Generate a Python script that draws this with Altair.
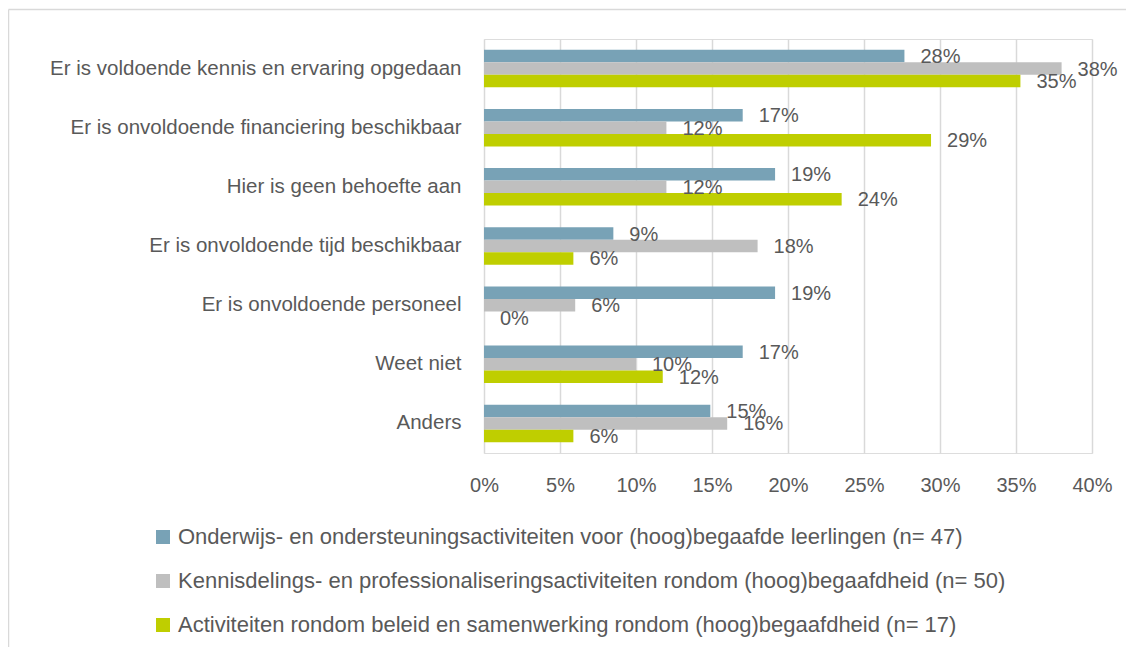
import altair as alt
import pandas as pd

categories = [
    "Er is voldoende kennis en ervaring opgedaan",
    "Er is onvoldoende financiering beschikbaar",
    "Hier is geen behoefte aan",
    "Er is onvoldoende tijd beschikbaar",
    "Er is onvoldoende personeel",
    "Weet niet",
    "Anders",
]
series = [
    "Onderwijs- en ondersteuningsactiviteiten voor (hoog)begaafde leerlingen (n= 47)",
    "Kennisdelings- en professionaliseringsactiviteiten rondom (hoog)begaafdheid (n= 50)",
    "Activiteiten rondom beleid en samenwerking rondom (hoog)begaafdheid (n= 17)",
]
onderwijs = [27.66, 17.02, 19.15, 8.51, 19.15, 17.02, 14.89]
kennisdeling = [38.0, 12.0, 12.0, 18.0, 6.0, 10.0, 16.0]
beleid = [35.29, 29.41, 23.53, 5.88, 0.0, 11.76, 5.88]
x_ticks = [0, 5, 10, 15, 20, 25, 30, 35, 40]
colors = ["#78A2B6", "#BFBFBF", "#BFCE00"]

rows = []
for s, vals in zip(series, [onderwijs, kennisdeling, beleid]):
    for c, v in zip(categories, vals):
        rows.append({"cat": c, "series": s, "v": v})
df = pd.DataFrame(rows)

TXT = "#595959"
FONT = "Liberation Sans"

y_enc = alt.Y("cat:N", sort=categories, title=None,
              scale=alt.Scale(paddingInner=0.366, paddingOuter=0.183),
              axis=alt.Axis(labelFontSize=20.5, labelColor=TXT, labelFont=FONT,
                            labelPadding=23, ticks=False, domain=False,
                            grid=False, labelLimit=600))
yoff = alt.YOffset("series:N", sort=series, scale=alt.Scale(paddingInner=0, paddingOuter=0))
x_enc = alt.X("v:Q", title=None,
              scale=alt.Scale(domain=[0, 40], nice=False, zero=True),
              axis=alt.Axis(values=x_ticks, labelExpr="datum.value + '%'",
                            labelFontSize=20, labelColor=TXT, labelFont=FONT,
                            labelPadding=22, ticks=False, domain=False,
                            labelFlush=False, labelOverlap=False,
                            grid=True, gridColor="#D9D9D9", gridWidth=1.5))

base = alt.Chart(df)

bars = base.mark_bar(size=12.5).encode(
    y=y_enc,
    yOffset=yoff,
    x=x_enc,
    color=alt.Color("series:N", sort=series, title=None,
                    scale=alt.Scale(domain=series, range=colors),
                    legend=alt.Legend(orient="none", legendX=-332, legendY=487,
                                      direction="vertical", symbolType="square",
                                      symbolSize=196, symbolStrokeWidth=0,
                                      labelFontSize=22, labelColor=TXT,
                                      labelFont=FONT, labelLimit=1000,
                                      labelOffset=4, rowPadding=22, padding=0)),
)

labels = base.transform_calculate(
    lbl="format(datum.v, '.0f') + '%'"
).mark_text(align="left", baseline="middle", dx=16, dy=1,
            fontSize=20, font=FONT, color=TXT).encode(
    y=alt.Y("cat:N", sort=categories),
    yOffset=yoff,
    x=alt.X("v:Q"),
    text="lbl:N",
)

frame_top = alt.Chart(pd.DataFrame({"a": [0]})).mark_rule(
    color="#D9D9D9", strokeWidth=1.5).encode(
    x=alt.value(-475.5), x2=alt.value(660), y=alt.value(-29.5))
frame_left = alt.Chart(pd.DataFrame({"a": [0]})).mark_rule(
    color="#D9D9D9", strokeWidth=1.5).encode(
    x=alt.value(-475.5), y=alt.value(-29.5), y2=alt.value(614))

chart = alt.layer(frame_top, frame_left, bars, labels).properties(
    width=608, height=414,
    autosize=alt.AutoSizeParams(type="none"),
    padding={"left": 476, "top": 31, "right": 34, "bottom": 194},
).configure_view(stroke=None).configure(background="white")

chart.save("out.html", embed_options={"renderer": "svg", "actions": False})
